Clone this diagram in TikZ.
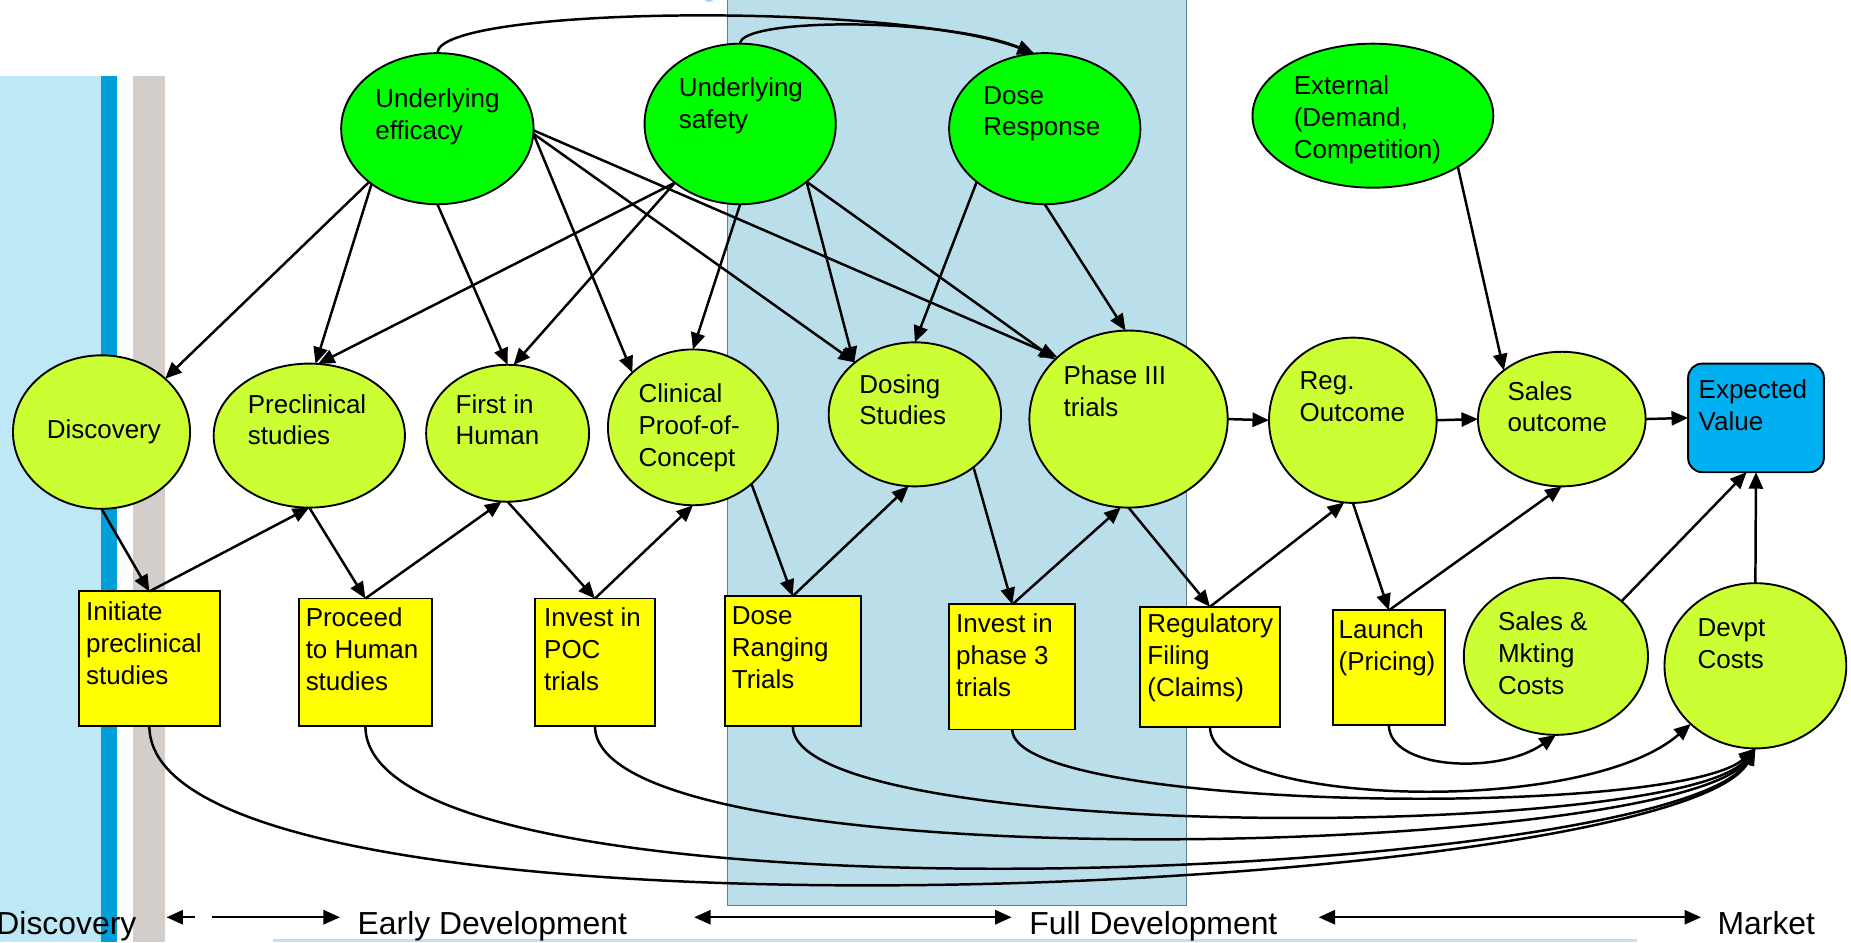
\documentclass[tikz,border=0pt]{standalone}
\usepackage{fontspec}
\setmainfont{Liberation Sans}
\usetikzlibrary{shapes.geometric,arrows.meta}

\definecolor{rootgreen}{HTML}{00FF00}
\definecolor{limegreen}{HTML}{CCFF33}
\definecolor{boxyellow}{HTML}{FFFF00}
\definecolor{evblue}{HTML}{00B0F0}
\definecolor{bandblue}{HTML}{BEE8F6}
\definecolor{barblue}{HTML}{009FDA}
\definecolor{bargray}{HTML}{D3CECA}
\definecolor{phasefill}{HTML}{BADEEA}
\definecolor{phaseedge}{HTML}{5E808C}
\definecolor{stripblue}{HTML}{BFE6F0}
\definecolor{tickblue}{HTML}{9AD4EE}

\begin{document}
\begin{tikzpicture}[x=1pt,y=-1pt,
  every node/.style={inner sep=0pt, outer sep=0pt},
  chancenode/.style={ellipse, draw=black, line width=1.6pt},
  rootnode/.style={chancenode, fill=rootgreen},
  midnode/.style={chancenode, fill=limegreen},
  decnode/.style={rectangle, draw=black, line width=1.6pt, fill=boxyellow},
  objnode/.style={rectangle, rounded corners=12pt, draw=black, line width=1.6pt, fill=evblue},
  txt/.style={anchor=north west, align=left, font=\fontsize{22}{27}\selectfont},
  phaselabel/.style={anchor=base west, font=\fontsize{27}{31}\selectfont},
  arr/.style={line width=2.1pt, -{Triangle[length=14pt,width=12pt]}},
  larr/.style={line width=2.1pt, {Triangle[length=14pt,width=12pt]}-},
  span/.style={line width=2.1pt, {Triangle[length=14pt,width=12pt]}-{Triangle[length=14pt,width=12pt]}},
]
\useasboundingbox (0,0) rectangle (1568,798);
\clip (0,0) rectangle (1568,798);

% ---- background bands ----
\fill[bandblue] (0,64.4) rectangle (85.7,798);
\fill[barblue] (85.7,64.4) rectangle (99,798);
\fill[bargray] (112.8,64.4) rectangle (139.8,798);
\filldraw[fill=phasefill, draw=phaseedge, line width=0.8pt] (616,-5) rectangle (1005.4,766.6);
\fill[stripblue] (231,795.6) rectangle (1387,798);
\fill[tickblue] (600.5,-1) ellipse [x radius=4, y radius=2.6];

% ---- uncertain drivers ----
\node[rootnode, minimum width=163pt, minimum height=128pt] (ue) at (370.5,109) {};
\node[rootnode, minimum width=162pt, minimum height=136pt] (us) at (627,105) {};
\node[rootnode, minimum width=162pt, minimum height=128pt] (dr) at (885,109) {};
\node[rootnode, minimum width=204pt, minimum height=122pt] (ext) at (1163,98) {};

% ---- chance nodes ----
\node[midnode, minimum width=150pt, minimum height=130pt] (disc) at (86,366) {};
\node[midnode, minimum width=162pt, minimum height=122pt] (pre) at (262,369) {};
\node[midnode, minimum width=138pt, minimum height=116pt] (fih) at (430,367) {};
\node[midnode, minimum width=144pt, minimum height=132pt] (cpc) at (587,362) {};
\node[midnode, minimum width=146pt, minimum height=122pt] (ds) at (775,351) {};
\node[midnode, minimum width=168pt, minimum height=150pt] (p3) at (956,355) {};
\node[midnode, minimum width=142pt, minimum height=140pt] (ro) at (1146,356) {};
\node[midnode, minimum width=142pt, minimum height=114pt] (so) at (1323,355) {};
\node[midnode, minimum width=156pt, minimum height=133pt] (sm) at (1318,556) {};
\node[midnode, minimum width=154pt, minimum height=140pt] (dc) at (1487,564) {};

% ---- objective ----
\node[objnode, minimum width=115pt, minimum height=92pt] (ev) at (1487.5,354) {};

% ---- decisions ----
\node[decnode, minimum width=119pt, minimum height=114pt] (init) at (126.5,558) {};
\node[decnode, minimum width=113pt, minimum height=108pt] (proc) at (309.5,561) {};
\node[decnode, minimum width=102pt, minimum height=108pt] (pocb) at (504,561) {};
\node[decnode, minimum width=115pt, minimum height=110pt] (drt) at (671.5,560) {};
\node[decnode, minimum width=107pt, minimum height=106pt] (ip3) at (857.5,565) {};
\node[decnode, minimum width=118pt, minimum height=102pt] (regf) at (1025,565) {};
\node[decnode, minimum width=95pt, minimum height=97pt] (launch) at (1176.5,565.5) {};

% ---- node texts ----
\node[txt] (ue-t) at (318,75) {Underlying\\efficacy};
\node[txt] (us-t) at (575,66) {Underlying\\safety};
\node[txt] (dr-t) at (833,73) {Dose\\Response};
\node[txt] (ext-t) at (1096,64) {External\\(Demand,\\Competition)};
\node[font=\fontsize{22}{27}\selectfont] (disc-t) at (88,366) {Discovery};
\node[txt] (pre-t) at (210,334) {Preclinical\\studies};
\node[txt] (fih-t) at (386,334) {First in\\Human};
\node[txt] (cpc-t) at (541,325) {Clinical\\Proof-of-\\Concept};
\node[txt] (ds-t) at (728,317) {Dosing\\Studies};
\node[txt] (p3-t) at (901,310) {Phase III\\trials};
\node[txt] (ro-t) at (1101,315) {Reg.\\Outcome};
\node[txt] (so-t) at (1277,323) {Sales\\outcome};
\node[txt] (ev-t) at (1439,322) {Expected\\Value};
\node[txt] (sm-t) at (1269,518) {Sales \&\\Mkting\\Costs};
\node[txt] (dc-t) at (1438,524) {Devpt\\Costs};
\node[txt] (init-t) at (73,510) {Initiate\\preclinical\\studies};
\node[txt] (proc-t) at (259,515) {Proceed\\to Human\\studies};
\node[txt] (pocb-t) at (461,515) {Invest in\\POC\\trials};
\node[txt] (drt-t) at (620,514) {Dose\\Ranging\\Trials};
\node[txt] (ip3-t) at (810,520) {Invest in\\phase 3\\trials};
\node[txt] (regf-t) at (972,520) {Regulatory\\Filing\\(Claims)};
\node[txt] (launch-t) at (1134,525) {Launch\\(Pricing)};

% ---- influences from the drivers ----
\draw[arr] (ue.218) -- (disc.40);
\draw[arr] (ue.220) -- (pre.85);
\draw[arr] (ue.south) -- (fih.north);
\draw[arr] (ue.-3) -- (cpc.138);
\draw[arr] (ue.-3) -- (ds.139);
\draw[arr] (ue.-1) -- (p3.139);
\draw[arr] (us.222) -- (pre.83);
\draw[arr] (us.222) -- (fih.85);
\draw[arr] (us.south) -- (cpc.north);
\draw[arr] (us.-41) -- (ds.140);
\draw[arr] (us.-41) -- (p3.141);
\draw[arr] (dr.218) -- (ds.north);
\draw[arr] (dr.south) -- (p3.92);
\draw[arr] (ext.-31) -- (so.140);
\draw[arr] (ue.north) .. controls +(0,-40) and +(-116,-44) .. (dr.98);
\draw[arr] (us.north) .. controls +(0,-22) and +(-76,-31) .. (dr.98);

% ---- main chain ----
\draw[arr] (p3.east) -- (ro.west);
\draw[arr] (ro.east) -- (so.west);
\draw[arr] (so.east) -- (ev.west);

% ---- decision zig-zag ----
\draw[arr] (disc.south) -- (init.north);
\draw[arr] (init.north) -- (pre.south);
\draw[arr] (pre.south) -- (proc.north);
\draw[arr] (proc.north) -- (fih.265);
\draw[arr] (fih.south) -- (pocb.north);
\draw[arr] (pocb.north) -- (cpc.south);
\draw[arr] (cpc.-44) -- (drt.north);
\draw[arr] (drt.north) -- (ds.265);
\draw[arr] (ds.-42) -- (ip3.north);
\draw[arr] (ip3.north) -- (p3.265);
\draw[arr] (p3.south) -- (regf.north);
\draw[arr] (regf.north) -- (ro.264);
\draw[arr] (ro.south) -- (launch.north);
\draw[arr] (launch.north) -- (so.south);
\draw[arr] (sm.40) -- ([xshift=-8pt]ev.south);
\draw[arr] (dc.north) -- (ev.south);

% ---- cost links ----
\draw[arr] (init.south) .. controls +(0,205) and +(-67,125) .. (dc.south);
\draw[arr] (proc.south) .. controls +(0,180) and +(-67,113) .. (dc.south);
\draw[arr] (pocb.south) .. controls +(0,135) and +(-67,92) .. (dc.south);
\draw[arr] (drt.south) .. controls +(0,100) and +(-67,78) .. (dc.south);
\draw[arr] (ip3.south) .. controls +(0,70) and +(-67,60) .. (dc.south);
\draw[arr] (regf.south) .. controls +(0,66) and +(-92,80) .. (dc.222);
\draw[arr] (launch.south) .. controls +(0,38) and +(-48,34) .. (sm.south);

% ---- phase scale ----
\coordinate (s1a) at (141,777);
\coordinate (s1b) at (165,777);
\coordinate (s2a) at (180,777);
\coordinate (s2b) at (288,777);
\coordinate (s3a) at (588,777);
\coordinate (s3b) at (857,777);
\coordinate (s4a) at (1117,777);
\coordinate (s4b) at (1441,777);
\draw[larr] (s1a) -- (s1b);
\draw[arr] (s2a) -- (s2b);
\draw[span] (s3a) -- (s3b);
\draw[span] (s4a) -- (s4b);
\node[phaselabel] (ph-disc) at (-3,792) {Discovery};
\node[phaselabel] (ph-early) at (303,792) {Early Development};
\node[phaselabel] (ph-full) at (872,792) {Full Development};
\node[phaselabel] (ph-market) at (1455,792) {Market};
\end{tikzpicture}
\end{document}
